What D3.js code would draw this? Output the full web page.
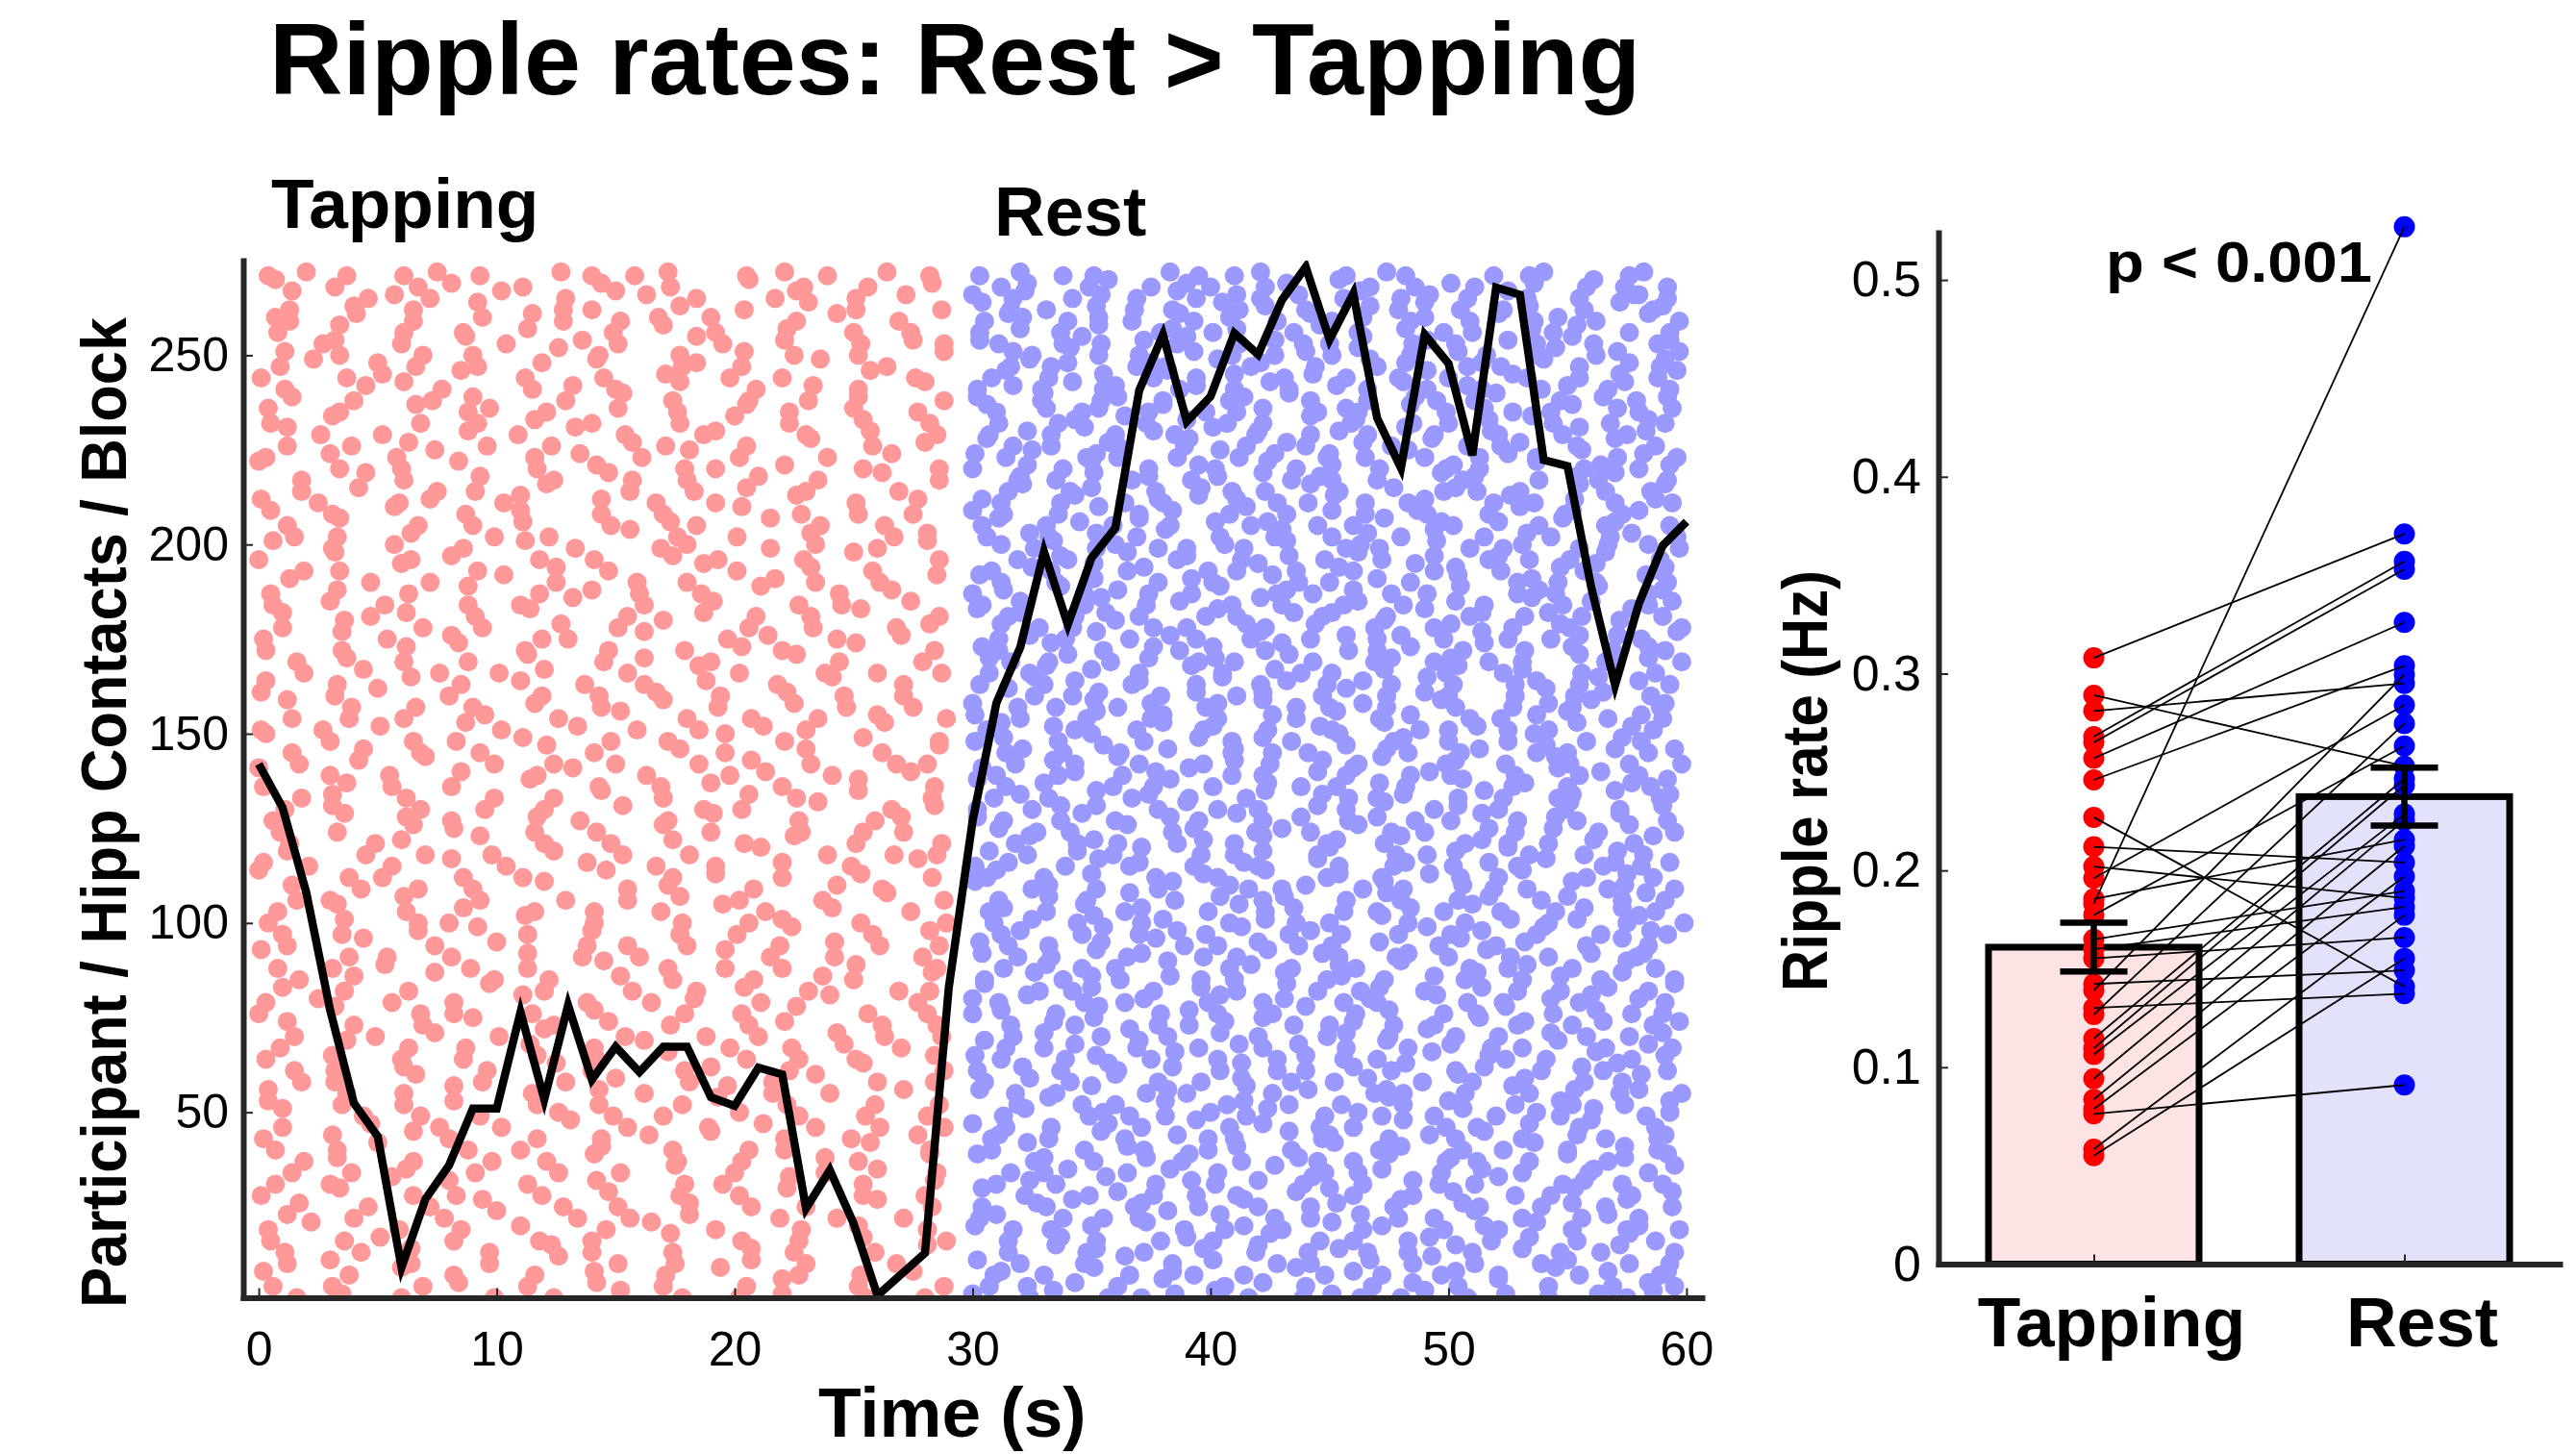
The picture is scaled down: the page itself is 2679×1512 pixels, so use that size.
<!DOCTYPE html>
<html>
<head>
<meta charset="utf-8">
<script src="https://cdn.jsdelivr.net/npm/d3@7"></script>
<style>
body { margin: 0; background: #fff; }
svg { display: block; font-family: "Liberation Sans", Arial, Helvetica, sans-serif; }
</style>
</head>
<body>
<svg id="chart"></svg>
<script>
// ---- data ----

// black line: mean ripple count per second (y units of the raster axis)
var seconds = [0,1,2,3,4,5,6,7,8,9,10,11,12,13,14,15,16,17,18,19,20,
  21,22,23,24,25,26,27,28,29,30,31,32,33,34,35,36,37,38,39,40,
  41,42,43,44,45,46,47,48,49,50,51,52,53,54,55,56,57,58,59,60];
var meanRate = [142,130.5,108,77,52.4,43.6,9,27,36,51,51,
  76.5,53.4,78.3,58.6,67.3,60.6,67.3,67.3,54,51.7,
  61.8,60,24.6,34.7,20.6,1.6,7.2,12.8,83,127,
  158.1,172.8,198.1,178.8,196.5,204.4,240.7,255.4,232.5,239.1,
  255.8,250.2,264.6,273.3,254.1,266.3,233.4,220.2,255.4,247.8,
  223.6,267.9,266,222.3,220.7,188.6,162.8,184.4,199.7,206];

// raster transcription: one string per band of 3 rows (top band first),
// one char per second; '.' = no ripple, other chars = offset inside the cell
var tapRows = [
  "4.a7..1f.3..h.08.c..5.b9..e.2",
  "H..2..7.b..1..e..3..G.9..6..d",
  ".E..6h.2..C.9..Ad.4..7G..1.c.",
  ".3..a.5..C..8.0..h..4..B.1..7",
  "h3..B.5..e.F8..2i..a..6.D.9..",
  "8..E..1.6..d..9..A.2..c..0.4.",
  "..7c..0.H.4..g.1..E5..b..3.f8",
  ".b.4..9..0..G.3..7..e.5..2..i",
  "9.D..a6..2.j..C..8e.3..G..4..",
  "1..7.c..F..2..5..b.8..0..H.6.",
  ".1..f.B7...5.c.0.H..9..d.2..A",
  ".e..0..3.a..9..D.4..6..1.c..8",
  "e..4..G.8h..1..b.6..F.3..a.7.",
  "5..B..8..2.g..0..7..A.3..e..2",
  ".C6..2..i.9..D.4..7c...0.h..5",
  ".2.9..d..6..3..h.1..5..C.8..a",
  "3..a.8.E...6.f..1.B.2..9..g..",
  "A..4..0.E..7..c..9.2..b..4..6",
  ".8..F.1..d..4.H7..0..a.5..C.6",
  ".8..c..5.1..B..6..3.f..0..9..",
  "b.5..9.c..3A..e.7..2..G..1.h.",
  "f..1.H..7..a..4..0..D.8..2.5.",
  ".2.E..7..0.b..8..d4..F.6..3..",
  ".5.3..e..9..2..G.6..1..c..7.b",
  "G..1.h..6..C.3..9.a..5.e..0.B",
  "0..C..4.b..8..1..e.3..9..A..6",
  ".9.4..A..2..f.7...H.1..c.8...",
  ".d..7..2..D.5..9..0..h.4..1.F",
  "5..d..3.I..8..a.0.6..B..4.g..",
  "6..a.3..8..0.C..2..b..7.5..e.",
  ".a..7.c..1.E...5..h.9..2.D..6",
  ".0.G..9..4..h..1.A..6..3..8.c",
  "2..F.4..b..9.0..C..7.e..3..a.",
  "3..5..c.E..2..7..9..d.0..B..4",
  ".6.h..1.8..D..5.c..0..G.4..9.",
  ".9..e..6..1.a..5..F.2..8..0.7",
  "d..3..E.5..a.7..2.i..8..B..1.",
  "b..2.A..0..9..3.h..4..c.6..1.",
  ".C.9..6..0.g..4..A.3..f.7..5.",
  ".4.8..1..f..6..C..0.7..5..a.9",
  "1.7..b..H.2..e.9..5..c.0..D..",
  "D..0..5.3..b..8..2.G..1..e..6",
  ".4..e.8..3..B.1..h.6...a..2.G",
  ".7..c..A.9..4..0..5.h..2..8.1",
  "A..0.5..f..7.C..3..8.d..1..e.",
  "2..h.6..1..E..3.9..a..0..C..4",
  ".8.b..2..9..4.E..0..g.6..C..3",
  ".1.b..8..5..0..d..7.3..F..6.e",
  "6..G..c.1..h.5...2.B..7..9.a.",
  "9..3..F.c..6..2..A.0..8..4.1.",
  ".3..9.a..D..0.8..e..4.F..1..7",
  ".c..5..0.8..e..3..1..B.9..7.5",
  "c.1..6..B.4..i..7..2..a.9..H.",
  "A..8.2..6..1..G..4.c..0..d..3",
  ".e..3.7..0..A..5.c..8...d.2..",
  ".6.0..b..3..9..5.h..2..7..E.8",
  "8..D..2.g..6..1.9..F.3..b..4.",
  "4..g..7.0..C..1..8..6.a..3..9",
  ".0.5..h..C.3..a..7..1.E..8..c",
  ".2..E..4..a..8.5..0..9..c.1.6",
  "B..8.4..1..d.6..0..G.5..2..9.",
  "8..1.d..9..3..F..2.6..0..b..5",
  ".7..a..E.9..2..c.4..8..h.0..D",
  ".a.6..3..H..0..7..4.e..1..9.2",
  "3.f..6..2..B.8..5.d..1..A..7.",
  "0..C..8.2..5..b..9..3.G..6..1",
  ".c..0.9..A..4.h..3..6.b...2.5",
  ".5..9..e..1.A..4..8..0..d.3.7",
  "9..H..3.7..e..1.C..8..4.g..0.",
  "3..b..0.6..h..2..C..5.7..1..e",
  ".5.2..b..6..F.0..9.a..3..E..8",
  ".8.2..G..4..9..a..1..6.E..0.4",
  "e..7..1.C..5..d.2..H.6..0..b.",
  "e..5..1.c..7..3..8.D..2..9..6",
  ".A..4.8..3..g.9..0..c.7..5..1",
  ".0..h..6..2..B.5..9..c.4..1.8",
  "2..b..F.0..7..4.e..A..1.9..h.",
  "7..3.A..8..0..e..4..6.1..H..2",
  ".9.d..5..8..1.B..6..3..i.2..C",
  ".4.9..c..1..6..2.F..0..8..a.5",
  "7..0.G..a..3..c..9.5..D..4..e",
  "1..E..5.3..9..h..7..2.C..4..0",
  ".h..6..2.E..8..1..b.7..0..A.3",
  ".c..0..8..A..4.6..b..9..3..1.",
  "4.C..9..5..a..6.F..2..8..c..1",
  "5..6.b..2..8..0..D..3.7..e..9",
  ".1..3.e..7..D.0..4..h.5..9..B",
  ".2.a..4..7..G..1.5..h..0..8..",
  "c..8..A.2..6..b..1.E..7..3.f.",
  "6..1..9.e..3..c..0..5.A..2..8",
  ".6.f..0..9..4..C.8..2.a..5..0"
];
var restRows = [
  "3.a8.1..d5.0b..7.e2..9.4a..6c.",
  ".2d.9H.5.a0.3c.E7.6.b1.g.8B4.2",
  "a7C.2e9.G4.b1h.6D.0c8.F3.5.ia2",
  "E6.1.c8.4.F2d.0.h9.A5.3e.7.C6a",
  "5Fb.0d7.H3i.8.C1e.4a9.B6g.2.E7",
  "3.a7.D.9e.1b.5G.2.c8.0.f4E.6.3",
  "d1.8G4.c6A.2h9.0E.5b3.f7.C1.8d",
  ".h5.B3.0.d9.7.a1C.4.e6.8F.2b.h",
  ".6E3a.9f1.D7b.4.H0c.8e2.A5.g9B",
  "8E.2.f.6C4.a.1d7.9.B0.h3.5.c8G",
  "2h9.C5a.7e.0F3.d6.B1i4.9.a7E.3",
  "c.9A.4b.0.8e.D2.6.g5.1A.7.f9.c",
  "G0.b6d.4A8.1c.5h2.E9.f7.3C.b0e",
  ".1.6d.E3.a7.2.C9b.5.0h.F4.8.e1",
  "7.d3H.0g5.B9a.2e6.C4.i1.8F.5d.",
  "G7.3.h1.9B.5.c0.e6.D8.2a.4.A7.",
  "b4F.8c1.6.E2h.9a5.D0.3f7.G.1c6",
  "0.d8.A.4.f2.E6.b.1.9c3.H.7e.0d",
  ".9a5.B7e.2d.C4g1.0.H6b.8.e3A.2",
  ".5B.1a.7.g9.3.C4.h.8d2.0.F6.5B",
  "e2.7D.4i0F.b8.1C5.3a.9G6.d.0h4",
  "a3.6.D.0e.8F.2.b5.h1.7.A9c.3a.",
  "4B.1f9.A3.c7e.5.0D.h2.b8I.6a.3",
  "6.e2.c9.B.4.7A.1g.0E.5.d3.8h.6",
  ".c6E.2a8.0g4.C.7d1.F9.3b.5h.e7",
  ".9.h0.F.6a.3.d8.C2.e.7b4.1G.9.",
  "8.f3.B5c.9.1A6.e0.G4d.2.h7C.9b",
  "D2.5.b.8.c1.G7.0.a4.E.9f6.2.D2",
  "0d.H7.b4.2E.8c3.a6.1F.9i5.D.4a",
  "4.a.7E.3h.9.B0.6c.1.d5.F8.a.4e",
  "C5a.3g.0.8D1.f7b.4.A9e.2c6.H.0",
  ".c8.2.A6.0.f3.e.9D.4b.7.h1.C.8",
  ".1e9.C6.d4.7B.2h.0a8.E5.3f.b1G",
  "e1.D.5.g7.b.3A.8.0e.6F.2.c9.e1",
  "h6.2A8.e.5c0.D3.9g.4b7.1.F6.e8",
  "7.4B.a.0.C5.h8.1.d.9E.3b.6.A7.",
  "3.G0d.7a.4F.1c9.e6.B2.8h.5D.a3",
  ".F6.2d.9.e.1c.7H.4.a0.8.B3f.5.",
  "a9.5.B1f.8d.C6.0e4.H3.7.c2A.9b",
  "b.0.8C.5a.3.g6.D.1e.9.2h.A7.b0",
  "6C.e3.9.A7b.4.g1.D8.0c5.2E.h6.",
  "1d.6.A.2.f9.c4.E.7b.0.5G.8.d1.",
  ".4b8.F2.c.9a6.1H.e3.5d.7B0.a4f",
  ".8.e3.B0.7.a5.h.2C.9d.4.F1.6.8",
  "E0.6d.3h.B9.2.f7A.4c1.8.G5e.0.",
  "C4.a.9.6D.1.e8.3.b2.G.7c.0.h5C",
  "9.a2.C7e.1.5D.h8.0b.4F3.6c.A9d",
  "2.5h.c.8.A3.0.f7.D.4e.1.9B.2.a",
  "c3.7G.0.d5.B2i.8.a6.1E9.f4.C.2",
  ".b7.1.F.4d.9.a2.C6.0.h8.e.3G.5",
  ".8E.4b1.6h.0C.9d.3A.7e5.2.b8G.",
  "h.3.e9.B.6.0c.5A.8.1d.F4.7.b2.",
  "1f.9.D6a.3.e0.F4.7c.2h9.B.5a1d",
  "6A.0.a.7.h3.D.9e.2.c5.1B.8.f6.",
  "B.5c.2.8E.i6.0a.4D1.g9.3.C7e.5",
  ".1.c8.G.5.e.2b.7.E0.4h.9.a.3D1",
  "7d.1H.4b.9.C3f.6.0e8.A2.5h.d7.",
  "9.f.4B.1a.8.d6.0.C3.7.g.2e.5A9",
  ".2a.6F.0g8.D.3c5.9.B1e.7A.4.f2",
  "d5.2.e.H9.3.a7.1.b.6F.0c.8.D4.",
  "e9.3.C5b.7.1E.h4.8d.0G6.2.a9c.",
  ".3.b6.0.C.8h.4.e1.A.9.5d.2.F7.",
  "5.G8.a2.d6.0.B9f.3.e7C.1h.4D.5",
  "F.8.2a.6.g.1.C5.3b.0.e9.7.h.4F",
  "a1D.7.4c.9E.2b.6h0.F8.3.d5A.a1",
  "0c.5.D.9.b3.6.A.1f.8.2E.4.c7.0",
  ".6.e3B.8.1g.C5.0a7.4.D9c.2f.6h",
  ".7.a.4G.2.e.0.9h.5.B3.1.d8.6.a",
  "F4.0d.9A.5.c2h.7.E3.b8.1G.6.e4",
  "b2.9.c.5F.3.8.a6.0.D.h4.1.C7.b",
  "2.b7.H1.e.4D8.0.a6C.3f.9.g5B.2",
  "5.e.1.A8.6.d.4.2g.9.E0.c.7.3B.",
  "d8.5.A.3c0.F6.b.9e1.7.H4.d.2a8",
  ".9.C6.0.b.7e.3.5.F1.a.8.h2.4.d",
  ".3C.9f6.1.a5E.8.c2.4G.0h7.B.3d",
  "a4.3.h.1.E8.c.6.0.B9.2.e.5A.7.",
  "8b.2.E4.g9.0.D7a.5.c3F.1.e6.8b",
  "8.D.7.f2.9.b.4.C.1a.6.3G.0.e8.",
  "C.6a.1.d8B.3.h5.0F.9b2.4.A7e.C",
  ".6.0a.5.d.3.H.8.2c.7.e.1.9b.4F",
  ".0e5.G.7.c2.a9D.4.f6.1B.8h.3.0",
  "E.2.9.b6.4.1.g.A0.5.c.8.3D.7.e",
  "4.h1C.8b.5.E0.2d.7A.g3.9.c6F.4",
  "3a.8.5.0C.e.7.2.d9.4.B.1.6h.0.",
  "b7.3.a.D9.6e.0.B4c.8.f1H.2.5a7",
  ".5.h.2.9.a1.F.6.0.3c.8.e.4.G7.",
  ".5.F8c.2.h.9A.1e6.3.D0.b7.4C.5",
  "c.0.7.E.4.b.8.2.h.5D.1.9.a.6.3",
  "9c.0.B6.e3.4.G8.a2.7d.1.F5h.9c",
  "7.3.d.1.A.6.c.0.8.f.4.B.2.9.e5",
  "a.4E.7.1f.C6.9.b3.0A8.e.2.d5G."
];
var xTicks = [0,10,20,30,40,50,60];
var rowTicks = [50,100,150,200,250];

// right panel: per-participant ripple rates (Hz), paired by index
var conditions = ["Tapping","Rest"];
var tapRates = [0.308,0.289,0.281,0.268,0.265,0.257,0.246,0.227,0.212,0.196,
  0.202,0.1855,0.183,0.1773,0.1553,0.1423,0.139,0.1301,0.1268,0.1146,
  0.1097,0.1065,0.0942,0.0837,0.0788,0.0763,0.0584,0.0551,0.165,0.160];
var restRates = [0.371,0.253,0.295,0.357,0.353,0.326,0.304,0.141,0.204,0.284,
  0.186,0.2156,0.527,0.2632,0.1659,0.1492,0.2995,0.1374,0.2746,0.2466,
  0.2433,0.2286,0.2254,0.2124,0.1969,0.091,0.1773,0.1553,0.1895,0.1814];
var barMeans = [0.161, 0.2375];
var barSems = [0.0124, 0.0147];
var rateTicks = [0,0.1,0.2,0.3,0.4,0.5];

// ---- drawing ----
var W = 2679, H = 1512;
var FONT = '"Liberation Sans", Arial, Helvetica, sans-serif';
var AXIS = "#262626";

var svg = d3.select("#chart").attr("width", W).attr("height", H);
svg.append("rect").attr("width", W).attr("height", H).attr("fill", "#fff");

// decode raster strings into events
var BAND = 3;
var cellCodes = ["0123456789","abcdefghij","ABCDEFGHIJ"];
function decodeRows(rows, t0){
  var out = [];
  rows.forEach(function(s, i){
    var band = rows.length - 1 - i;
    for (var c = 0; c < s.length && c < 30; c++){
      var ch = s[c];
      if (ch === ".") continue;
      for (var k = 0; k < cellCodes.length; k++){
        var j = cellCodes[k].indexOf(ch);
        if (j >= 0){ out.push({t: t0 + c + j/10, row: 1 + band*BAND + k}); break; }
      }
    }
  });
  return out;
}
var tapEvents = decodeRows(tapRows, 0);
var restEvents = decodeRows(restRows, 30);

// ---------- left panel ----------
var xT = d3.scaleLinear().domain([-0.65, 60.65]).range([253, 1770]);
var yR = d3.scaleLinear().domain([1, 275]).range([1349.5, 271]);

svg.append("clipPath").attr("id", "clipL")
  .append("rect")
  .attr("x", xT.range()[0]).attr("y", yR.range()[1])
  .attr("width", xT.range()[1] - xT.range()[0])
  .attr("height", yR.range()[0] - yR.range()[1]);

var gL = svg.append("g").attr("clip-path", "url(#clipL)");

gL.selectAll("circle.tap").data(tapEvents).enter().append("circle")
  .attr("class", "tap")
  .attr("cx", function(d){ return xT(d.t); })
  .attr("cy", function(d){ return yR(d.row); })
  .attr("r", 10)
  .attr("fill", "#ff9999");

gL.selectAll("circle.rest").data(restEvents).enter().append("circle")
  .attr("class", "rest")
  .attr("cx", function(d){ return xT(d.t); })
  .attr("cy", function(d){ return yR(d.row); })
  .attr("r", 10)
  .attr("fill", "#9999ff");

var meanLine = d3.line()
  .x(function(d, i){ return xT(seconds[i]); })
  .y(function(d){ return yR(d); });

gL.append("path")
  .datum(meanRate)
  .attr("d", meanLine)
  .attr("fill", "none")
  .attr("stroke", "#000")
  .attr("stroke-width", 8.5)
  .attr("stroke-linejoin", "miter");

function styleAxis(g, size, weight){
  g.attr("font-family", null).attr("font-size", null);
  g.select(".domain").attr("stroke", AXIS).attr("stroke-width", 6).attr("stroke-linecap", "square");
  g.selectAll(".tick line").attr("stroke", AXIS).attr("stroke-width", 2);
  g.selectAll(".tick text")
    .attr("fill", "#000")
    .style("font-family", FONT)
    .style("font-size", size + "px")
    .style("font-weight", weight || "normal");
}

var gxL = svg.append("g")
  .attr("transform", "translate(0," + yR.range()[0] + ")")
  .call(d3.axisBottom(xT).tickValues(xTicks).tickSize(-10).tickSizeOuter(0).tickPadding(35));
styleAxis(gxL, 50);

var gyL = svg.append("g")
  .attr("transform", "translate(" + xT.range()[0] + ",0)")
  .call(d3.axisLeft(yR).tickValues(rowTicks).tickSize(-10).tickSizeOuter(0).tickPadding(15));
styleAxis(gyL, 50);

// ---------- right panel ----------
var xC = d3.scaleLinear().domain([0.5, 2.5]).range([2016, 2662]);
var yH = d3.scaleLinear().domain([0, 0.524]).range([1314.5, 242]);
var barW = 219;

var barFill = ["#fde3e3", "#e2e2fb"];
svg.selectAll("rect.bar").data(barMeans).enter().append("rect")
  .attr("class", "bar")
  .attr("x", function(d, i){ return xC(i + 1) - barW/2; })
  .attr("y", function(d){ return yH(d); })
  .attr("width", barW)
  .attr("height", function(d){ return yH(0) - yH(d); })
  .attr("fill", function(d, i){ return barFill[i]; })
  .attr("stroke", "#000")
  .attr("stroke-width", 7);

svg.selectAll("circle.tapP").data(tapRates).enter().append("circle")
  .attr("cx", xC(1)).attr("cy", function(d){ return yH(d); })
  .attr("r", 11).attr("fill", "#ff0000");

svg.selectAll("circle.restP").data(restRates).enter().append("circle")
  .attr("cx", xC(2)).attr("cy", function(d){ return yH(d); })
  .attr("r", 11).attr("fill", "#0000ff");

svg.selectAll("line.pair").data(tapRates).enter().append("line")
  .attr("x1", xC(1)).attr("y1", function(d){ return yH(d); })
  .attr("x2", xC(2)).attr("y2", function(d, i){ return yH(restRates[i]); })
  .attr("stroke", "#000").attr("stroke-width", 1.8);

var capHalf = 35;
barMeans.forEach(function(m, i){
  var cx = xC(i + 1), lo = yH(m - barSems[i]), hi = yH(m + barSems[i]);
  var g = svg.append("g").attr("stroke", "#000").attr("stroke-width", 6.5);
  g.append("line").attr("x1", cx).attr("x2", cx).attr("y1", lo).attr("y2", hi);
  g.append("line").attr("x1", cx - capHalf).attr("x2", cx + capHalf).attr("y1", lo).attr("y2", lo);
  g.append("line").attr("x1", cx - capHalf).attr("x2", cx + capHalf).attr("y1", hi).attr("y2", hi);
});

var gxR = svg.append("g")
  .attr("transform", "translate(0," + yH.range()[0] + ")")
  .call(d3.axisBottom(xC).tickValues([1, 2])
    .tickFormat(function(d){ return conditions[d - 1]; })
    .tickSize(-10).tickSizeOuter(0).tickPadding(34));
styleAxis(gxR, 73, "bold");
gxR.selectAll(".tick text").attr("dx", 18);

var gyR = svg.append("g")
  .attr("transform", "translate(" + xC.range()[0] + ",0)")
  .call(d3.axisLeft(yH).tickValues(rateTicks)
    .tickFormat(function(d){ return d === 0 ? "0" : d3.format(".1f")(d); })
    .tickSize(-10).tickSizeOuter(0).tickPadding(18));
styleAxis(gyR, 52);

// ---------- text ----------
function addText(x, y, str, size, opts){
  opts = opts || {};
  var t = svg.append("text")
    .attr("x", x).attr("y", y)
    .attr("fill", "#000")
    .style("font-family", FONT)
    .style("font-size", size + "px")
    .style("font-weight", "bold")
    .attr("text-anchor", opts.anchor || "start")
    .text(str);
  if (opts.rotate) t.attr("transform", "rotate(-90," + x + "," + y + ")");
  if (opts.len) t.attr("textLength", opts.len).attr("lengthAdjust", "spacingAndGlyphs");
  return t;
}

addText(280, 98, "Ripple rates: Rest > Tapping", 106);
addText(282, 237, "Tapping", 73);
addText(1034, 245, "Rest", 73);
addText(851, 1494, "Time (s)", 73);
addText(131, 845, "Participant / Hipp Contacts / Block", 66, {anchor: "middle", rotate: true, len: 1030});
addText(1900, 812, "Ripple rate (Hz)", 66, {anchor: "middle", rotate: true, len: 438});
addText(2190, 293, "p < 0.001", 60, {len: 277});
</script>
</body>
</html>
